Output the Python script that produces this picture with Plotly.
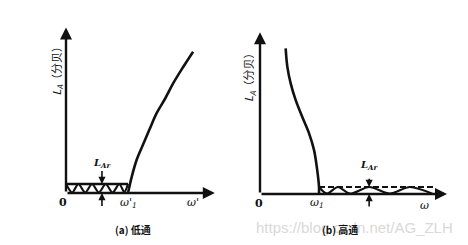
import plotly.graph_objects as go

# ---- data (normalised frequency, attenuation in units of L_Ar) ----
LAr = 1.0
# (a) low-pass
lp_curve_w = [1.0, 1.06, 1.14, 1.25, 1.355, 1.46, 1.60, 1.73, 1.89, 2.05]
lp_curve_L = [0.0, 1.8, 3.7, 5.5, 7.2, 8.85, 10.5, 12.2, 14.0, 15.7]
lp_ripple_w = [0.0, 0.1, 0.2, 0.31, 0.42, 0.53, 0.64, 0.75, 0.86, 0.94, 1.0]
lp_ripple_L = [1.0, 0.05, 1.0, 0.05, 1.0, 0.05, 1.0, 0.05, 1.0, 0.1, 1.0]
lp_band_w = [0.0, 1.0]
lp_arrow_w = 0.58
lp_axis_end = [2.4, 18.4]
lp_ticks = {"0": (-0.05, -1.1), "ω'<sub>1</sub>": (1.0, -1.1), "ω'": (2.05, -1.1)}

# (b) high-pass
hp_curve_w = [0.435, 0.463, 0.52, 0.605, 0.717, 0.83, 0.915, 0.97, 1.0, 1.0]
hp_curve_L = [20.8, 18.2, 15.8, 13.4, 11.0, 8.7, 6.3, 3.4, 1.0, 0.0]
hp_ripple_w = [1.0, 1.135, 1.32, 1.525, 1.85, 2.2, 2.54, 2.92]
hp_ripple_L = [1.0, 0.05, 1.0, 0.05, 1.0, 0.05, 1.0, 0.05]
hp_band_w = [1.0, 2.95]
hp_arrow_w = 1.85
hp_axis_end = [3.17, 23.1]
hp_ticks = {"0": (-0.02, -1.3), "ω<sub>1</sub>": (0.97, -1.3), "ω": (2.78, -1.6)}

captions = ["(a) 低通", "(b) 高通"]
ylabel = "<i>L</i><sub><i>A</i></sub>（分贝）"
watermark = "https://blog.csdn.net/AG_ZLH"

INK = "#111111"
fig = go.Figure()

# low-pass traces
fig.add_trace(go.Scatter(x=lp_curve_w, y=lp_curve_L, mode="lines", line=dict(color=INK, width=2.6, shape="spline"), xaxis="x", yaxis="y"))
fig.add_trace(go.Scatter(x=lp_ripple_w, y=lp_ripple_L, mode="lines", line=dict(color=INK, width=2.2, shape="spline", smoothing=0.8), xaxis="x", yaxis="y"))
fig.add_trace(go.Scatter(x=lp_band_w, y=[LAr, LAr], mode="lines", line=dict(color=INK, width=2.4), xaxis="x", yaxis="y"))

# high-pass traces
fig.add_trace(go.Scatter(x=hp_curve_w, y=hp_curve_L, mode="lines", line=dict(color=INK, width=2.6, shape="spline"), xaxis="x2", yaxis="y2"))
fig.add_trace(go.Scatter(x=hp_ripple_w, y=hp_ripple_L, mode="lines", line=dict(color=INK, width=2.2, shape="spline", smoothing=0.8), xaxis="x2", yaxis="y2"))
fig.add_trace(go.Scatter(x=hp_band_w, y=[LAr, LAr], mode="lines", line=dict(color=INK, width=2, dash="6px,3px"), xaxis="x2", yaxis="y2"))

ann = []
def arrow(xr, yr, x0, y0, x1, y1, w=2, head=2, size=1.0):
    ann.append(dict(xref=xr, yref=yr, axref=xr, ayref=yr, x=x1, y=y1, ax=x0, ay=y0,
                    text="", showarrow=True, arrowhead=head, arrowwidth=w, arrowsize=size, arrowcolor=INK))

def label(xr, yr, x, y, t, size=11, angle=0, fam="DejaVu Serif", color=INK):
    ann.append(dict(xref=xr, yref=yr, x=x, y=y, text=t, showarrow=False, textangle=angle,
                    font=dict(family=fam, size=size, color=color)))

# axes with arrows
arrow("x", "y", 0, 0, lp_axis_end[0], 0, w=2.4)
arrow("x", "y", 0, 0, 0, lp_axis_end[1], w=2.4)
arrow("x2", "y2", 0, 0, hp_axis_end[0], 0, w=2.4)
arrow("x2", "y2", 0, 0, 0, hp_axis_end[1], w=2.4)

# L_Ar arrows
arrow("x", "y", lp_arrow_w, 2.6, lp_arrow_w, LAr, w=1.6, size=0.9)
arrow("x", "y", lp_arrow_w, -1.6, lp_arrow_w, 0, w=1.6, size=0.9)
arrow("x2", "y2", hp_arrow_w, 2.4, hp_arrow_w, LAr, w=1.6, size=0.9)
arrow("x2", "y2", hp_arrow_w, -2.0, hp_arrow_w, 0, w=1.6, size=0.9)
label("x", "y", lp_arrow_w, 3.3, "<b><i>L</i><sub><i>Ar</i></sub></b>", size=10)
label("x2", "y2", hp_arrow_w, 4.1, "<b><i>L</i><sub><i>Ar</i></sub></b>", size=10)

for t, (x, y) in lp_ticks.items():
    label("x", "y", x, y, "<b>" + t + "</b>" if t == "0" else "<i>" + t + "</i>", size=11)
for t, (x, y) in hp_ticks.items():
    label("x2", "y2", x, y, "<b>" + t + "</b>" if t == "0" else "<i>" + t + "</i>", size=11)

label("x", "y", -0.15, 13.9, ylabel, size=11, angle=-90, fam="Noto Sans CJK SC")
label("x2", "y2", -0.19, 17.1, ylabel, size=11, angle=-90, fam="Noto Sans CJK SC")

label("x2", "y2", 1.6, -4.8, watermark, size=15, fam="Liberation Sans", color="#d9d9d9")
label("x", "y", 1.08, -4.1, "<b>" + captions[0] + "</b>", size=10, fam="Noto Sans CJK SC")
label("x2", "y2", 1.36, -5.1, "<b>" + captions[1] + "</b>", size=10, fam="Noto Sans CJK SC")

hidden = dict(showgrid=False, zeroline=False, showticklabels=False, showline=False, fixedrange=True)
fig.update_layout(
    width=468, height=245, margin=dict(l=0, r=0, t=0, b=0),
    paper_bgcolor="white", plot_bgcolor="white", showlegend=False,
    xaxis=dict(domain=[0, 0.5], range=[-66 / 62, 168 / 62], **hidden),
    yaxis=dict(domain=[0, 1], range=[-52 / 9, 193 / 9], **hidden),
    xaxis2=dict(domain=[0.5, 1], range=[-26 / 59, 208 / 59], **hidden),
    yaxis2=dict(domain=[0, 1], range=[-51 / 7, 194 / 7], anchor="x2", **hidden),
    annotations=ann,
)
fig.update_traces(hoverinfo="skip")
fig.write_html("out.html")
